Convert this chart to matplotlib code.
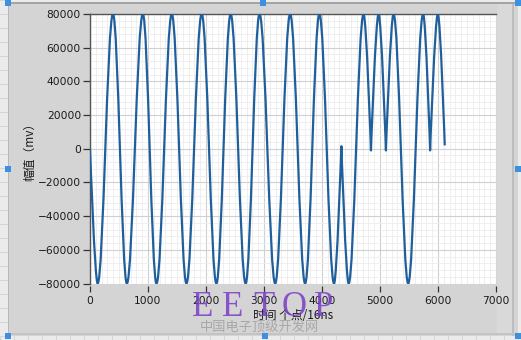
import numpy as np
import matplotlib.pyplot as plt
from matplotlib.patches import Rectangle, PathPatch
from matplotlib.path import Path
from matplotlib.ticker import MultipleLocator

plt.rcParams['font.family'] = ['DejaVu Sans', 'Noto Sans CJK SC']

# turning points of the waveform (sample index, mV)
t_pts = [0, 132, 396, 636, 911, 1147, 1410, 1663, 1926, 2179, 2425, 2683,
         2923, 3193, 3451, 3709, 3955, 4208, 4334, 4459, 4717, 4844, 4975,
         5102, 5233, 5486, 5744, 5864, 5997, 6116]
v_pts = [0, -80000, 80000, -80000, 80000, -80000, 80000, -80000, 80000,
         -80000, 80000, -80000, 80000, -80000, 80000, -80000, 80000, -80000,
         1500, -80000, 80000, -1000, 80000, -1000, 80000, -80000, 80000,
         -1000, 80000, 2000]

x_ticks = [0, 1000, 2000, 3000, 4000, 5000, 6000, 7000]
y_ticks = [-80000, -60000, -40000, -20000, 0, 20000, 40000, 60000, 80000]

W, H = 521, 340
fig = plt.figure(figsize=(W / 100, H / 100), dpi=100)
fig.patch.set_facecolor('#ebebeb')


def px_rect(x, y, w, h, color, z=0):
    # rectangle in pixel coords (origin top-left)
    r = Rectangle((x / W, 1 - (y + h) / H), w / W, h / H, transform=fig.transFigure,
                  facecolor=color, edgecolor='none', zorder=z)
    fig.add_artist(r)


# faint panel grid outside the control
for yy in range(0, H, 14):
    px_rect(0, yy, 8, 1, '#d6d6d6')
for xx in range(0, W, 14):
    px_rect(xx, 336, 1, 4, '#d6d6d6')

# the graph control panel
px_rect(8, 2, 510, 334, '#d4d4d4')
px_rect(8, 2, 510, 2, '#a4a4a4')
px_rect(8, 2, 1, 334, '#b8b8b8')
px_rect(497, 4, 15, 330, '#d9d9d9')
px_rect(512, 4, 2, 332, '#bdbdbd')
px_rect(8, 333, 510, 2, '#c4c4c4')

ax = fig.add_axes([90 / W, 1 - 283.5 / H, 406 / W, 269.5 / H])
ax.set_facecolor('white')

# smooth curve through the turning points: flat tangent at the full peaks,
# sharp corner at the shallow dips
verts = [(t_pts[0], v_pts[0])]
codes = [Path.MOVETO]
k = 0.364
for i in range(1, len(t_pts)):
    t0, v0, t1, v1 = t_pts[i - 1], v_pts[i - 1], t_pts[i], v_pts[i]
    dt = t1 - t0
    k0 = k if abs(v0) > 70000 else 0.0
    k1 = k if abs(v1) > 70000 else 0.0
    verts += [(t0 + k0 * dt, v0), (t1 - k1 * dt, v1), (t1, v1)]
    codes += [Path.CURVE4] * 3
ax.add_patch(PathPatch(Path(verts, codes), facecolor='none', edgecolor='#1f5f9c',
                       lw=1.6, joinstyle='round', zorder=3))

ax.set_xlim(0, 7000)
ax.set_ylim(-80000, 80000)
ax.set_xticks(x_ticks)
ax.set_yticks(y_ticks)
ax.xaxis.set_minor_locator(MultipleLocator(100))
ax.yaxis.set_minor_locator(MultipleLocator(4000))
ax.grid(which='major', color='#d0d0d0', lw=0.8)
ax.grid(which='minor', color='#ededed', lw=0.6)
ax.set_axisbelow(True)

for s in ['right', 'bottom']:
    ax.spines[s].set_visible(False)
for s in ['left', 'top']:
    ax.spines[s].set_color('#555555')
    ax.spines[s].set_linewidth(1.0)
ax.spines['bottom'].set_position(('outward', 2))

ax.tick_params(which='minor', length=0)
ax.tick_params(axis='y', which='major', length=5, width=0.9, color='#333333',
               labelsize=7.7, labelcolor='#1a1a1a', pad=1.5)
ax.tick_params(axis='x', which='major', length=4.5, width=0.9, color='#333333',
               labelsize=7.7, labelcolor='#1a1a1a', pad=2.5)

ax.set_ylabel('幅值（mv）', family=['Noto Sans CJK SC', 'DejaVu Sans'],
              fontsize=8.5, color='#1a1a1a', labelpad=1)
ax.set_xlabel('时间 个点/16ns', family=['Noto Sans CJK SC', 'DejaVu Sans'],
              fontsize=8.5, color='#1a1a1a', labelpad=2)

# watermark
for ch, xp in zip('EETOP', [203, 233, 264, 294, 324]):
    fig.text(xp / W, 1 - 316 / H, ch, family='Liberation Serif', fontsize=25,
             color='#7a3cc8', ha='center', va='baseline', alpha=0.85)
fig.text(259 / W, 1 - 328 / H, '中国电子顶级开发网', family='Noto Sans CJK SC',
         fontsize=9.5, color='#a8a8a8', ha='center', va='center')

# selection handles
for hx, hy in [(5, 0), (260, 0), (515, 0), (5, 166), (515, 166),
               (5, 333), (262, 333), (515, 333)]:
    px_rect(hx, hy, 6, 6, '#3d8fe0', z=5)

fig.savefig('out.png', dpi=100, facecolor=fig.get_facecolor())
